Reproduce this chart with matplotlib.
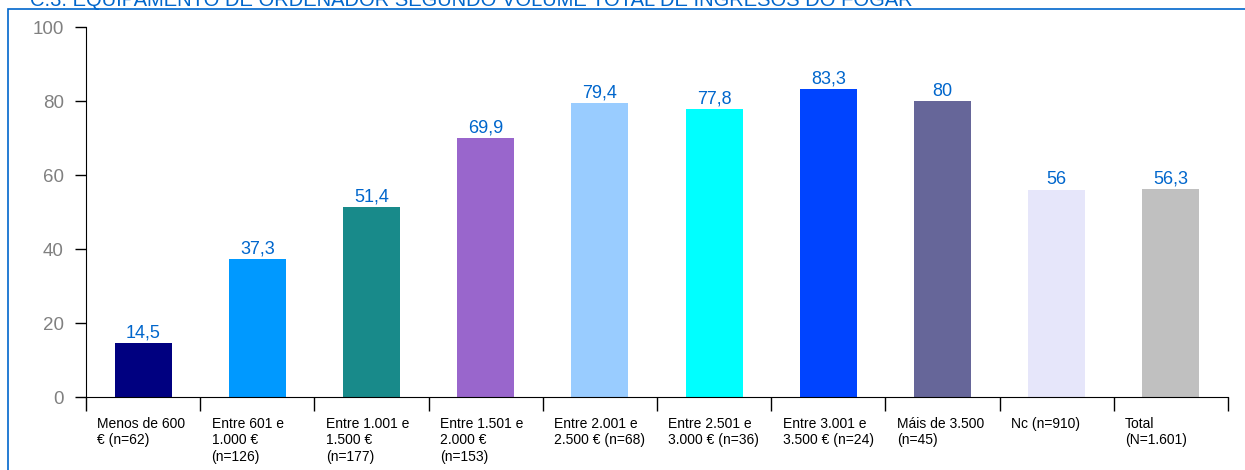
import matplotlib.pyplot as plt
from matplotlib.patches import Rectangle

# Datos
categorias = ['Menos de 600\n€ (n=62)', 'Entre 601 e\n1.000 €\n(n=126)', 'Entre 1.001 e\n1.500 €\n(n=177)',
              'Entre 1.501 e\n2.000 €\n(n=153)', 'Entre 2.001 e\n2.500 € (n=68)', 'Entre 2.501 e\n3.000 € (n=36)',
              'Entre 3.001 e\n3.500 € (n=24)', 'Máis de 3.500\n(n=45)', 'Nc (n=910)', 'Total\n(N=1.601)']
valores = [14.5, 37.3, 51.4, 69.9, 79.4, 77.8, 83.3, 80, 56, 56.3]
cores = ['#000080', '#0099FF', '#188A8A', '#9966CC', '#99CCFF', '#00FFFF',
         '#0044FF', '#666699', '#E6E6FA', '#C0C0C0']
titulo = 'C.3. EQUIPAMENTO DE ORDENADOR SEGUNDO VOLUME TOTAL DE INGRESOS DO FOGAR'

plt.rcParams['font.family'] = ['Liberation Sans', 'DejaVu Sans']

fig = plt.figure(figsize=(12.45, 4.7), dpi=100)
ax = fig.add_axes([86 / 1245, 1 - 397 / 470, (1228 - 86) / 1245, (397 - 27) / 470])

x = list(range(len(valores)))
barras = ax.bar(x, valores, width=0.5, color=cores, zorder=2)

for xi, v in zip(x, valores):
    txt = ('%g' % v).replace('.', ',')
    ax.annotate(txt, (xi, v), xytext=(0, 1), textcoords='offset points',
                ha='center', va='bottom', fontsize=13, color='#0066CC')

ax.set_xlim(-0.5, len(valores) - 0.5)
ax.set_ylim(0, 100)
ax.set_yticks([0, 20, 40, 60, 80, 100])
ax.tick_params(axis='y', direction='out', length=8, width=1, colors='black',
               labelcolor='#808080', labelsize=13.5, pad=8)

# ticks do eixo x nos limites das categorias
ax.set_xticks([i - 0.5 for i in range(len(valores) + 1)])
ax.set_xticklabels([])
ax.tick_params(axis='x', direction='out', length=10, width=1, colors='black')
for xi, lab in zip(x, categorias):
    ax.text(xi - 0.4, -5.3, lab, ha='left', va='top', fontsize=10,
            color='black', linespacing=1.25, transform=ax.transData)

for s in ['top', 'right']:
    ax.spines[s].set_visible(False)
ax.spines['left'].set_color('black')
ax.spines['bottom'].set_color('black')

# marco azul
fig.patches.append(Rectangle((8 / 1245, -0.1), 1.2, 1 - 9 / 470 + 0.1, transform=fig.transFigure,
                             fill=False, edgecolor='#0066CC', linewidth=1.2))
fig.text(30 / 1245, 1 - 6 / 470, titulo, ha='left', va='baseline', fontsize=14.5, color='#0066CC')

fig.savefig('out.png', dpi=100)
